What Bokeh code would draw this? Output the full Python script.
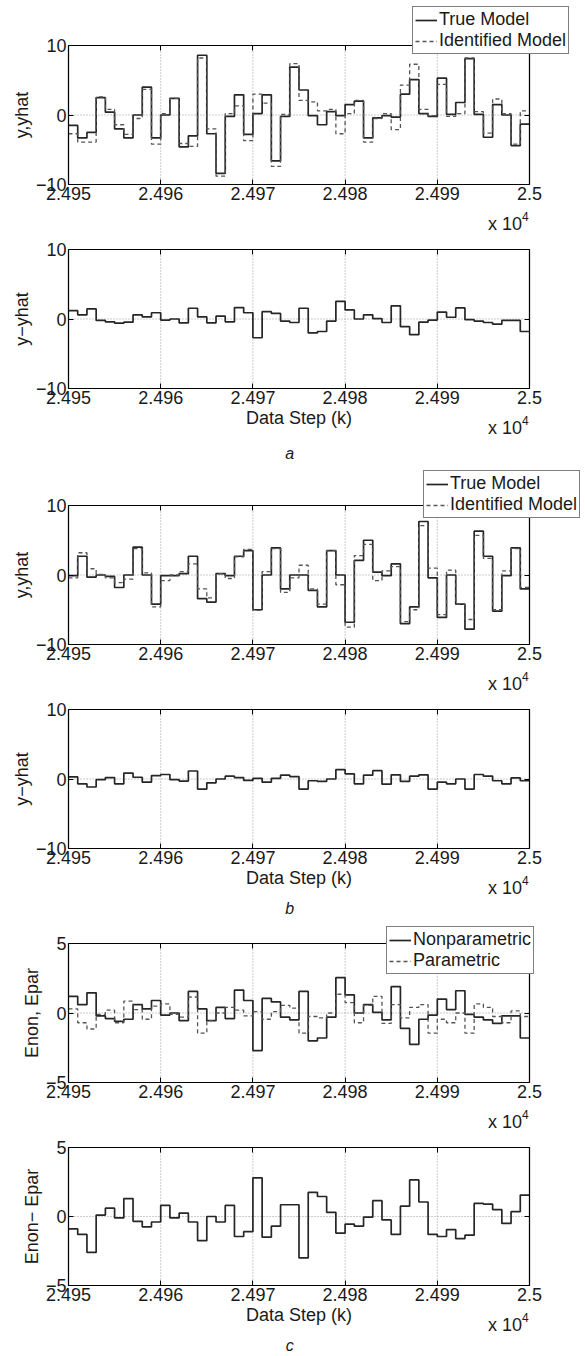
from bokeh.plotting import figure
from bokeh.models import Range1d, FixedTicker, LinearAxis, Legend, LegendItem, Label, BoxAnnotation
from bokeh.layouts import column
from bokeh.embed import file_html
from bokeh.resources import INLINE

# ---------------- data ----------------
k_start = 24950
n_steps = 50
k_edges = list(range(k_start, k_start + n_steps + 1))

x_ticks = [24950, 24960, 24970, 24980, 24990, 25000]
x_tick_labels = ["2.495", "2.496", "2.497", "2.498", "2.499", "2.5"]

# case a : true vs identified model output
y_true_a = [-1.5, -3.3, -2.5, 2.5, 0.4, -2.0, -3.3, 0.0, 4.0, -3.3,
            0.0, 2.4, -4.6, -3.0, 8.6, -2.7, -8.4, -0.2, 2.9, -2.8,
            0.2, 2.9, -6.6, -0.2, 6.9, 3.6, -0.1, -1.4, 0.5, -0.1,
            1.5, 2.0, -3.3, -0.4, -0.1, -0.3, 3.0, 5.1, 0.2, -0.2,
            5.3, 0.1, 1.8, 8.1, 0.1, -3.2, 1.5, 0.0, -4.4, -1.3]
y_ident_a = [-2.7, -3.9, -3.9, 2.6, 0.8, -1.4, -2.8, -0.5, 3.7, -4.2,
             0.2, 2.4, -4.1, -4.5, 8.2, -2.0, -8.8, 0.2, 1.3, -3.7,
             3.0, 1.7, -7.4, 0.1, 7.4, 2.1, 1.9, 0.6, 0.8, -2.7,
             0.2, 2.1, -3.9, -0.5, 0.2, -2.1, 4.3, 7.3, 0.8, -0.1,
             4.4, -0.2, 0.2, 8.2, 0.5, -2.6, 2.3, 0.2, -4.2, 0.6]
# nonparametric error (y - yhat, case a)
e_nonpar = [1.2, 0.6, 1.45, -0.2, -0.4, -0.6, -0.45, 0.6, 0.3, 0.9,
            -0.15, 0.0, -0.55, 1.55, 0.3, -0.55, 0.4, -0.4, 1.65, 0.9,
            -2.7, 1.05, 0.8, -0.3, -0.5, 1.55, -2.0, -1.8, -0.3, 2.55,
            1.3, 0.0, 0.6, 0.05, -0.5, 1.9, -1.1, -2.25, -0.45, -0.15,
            1.0, 0.25, 1.6, -0.1, -0.3, -0.5, -0.75, -0.2, -0.2, -1.8]

# case b : true vs identified model output
y_true_b = [-0.1, 2.7, -0.3, 0.0, -0.2, -1.8, 0.0, 4.0, 0.0, -4.2,
            -0.1, -0.1, 0.2, 2.7, -3.4, -3.9, 0.2, -0.1, 2.7, 3.5,
            -5.0, 0.0, 3.9, -2.0, 0.0, 0.0, -2.2, -4.6, 3.5, 0.0,
            -6.8, 2.1, 5.0, 0.4, -0.1, 1.6, -7.0, -4.6, 7.7, -0.4,
            -6.1, 0.0, -4.2, -7.8, 6.3, 2.7, -5.2, -0.1, 3.9, -2.0]
y_ident_b = [-0.4, 3.2, 0.9, 0.1, -0.4, -1.1, -0.6, 3.8, 0.3, -4.6,
             -0.8, 0.0, 0.5, 1.6, -2.0, -3.3, 0.2, -0.5, 2.6, 3.7,
             -5.1, 0.5, 3.8, -2.5, -0.4, 1.4, -2.0, -4.2, 3.5, -1.4,
             -7.5, 2.8, 4.4, -0.8, 0.6, 1.2, -6.7, -5.0, 7.1, 1.0,
             -5.7, 0.7, -4.2, -6.4, 5.7, 2.4, -5.0, 0.6, 3.8, -1.8]
# parametric error (y - yhat, case b)
e_par = [0.3, -0.7, -1.15, -0.1, 0.2, -0.7, 0.85, 0.25, -0.45, 0.5,
         0.65, -0.1, -0.3, 1.15, -1.45, -0.55, 0.0, 0.4, 0.2, -0.2,
         0.1, -0.45, 0.1, 0.55, 0.35, -1.45, -0.25, -0.35, 0.0, 1.35,
         0.75, -0.7, 0.55, 1.2, -0.75, 0.6, -0.35, 0.4, 0.6, -1.45,
         -0.45, -0.7, 0.0, -1.45, 0.65, 0.4, -0.25, -0.7, 0.15, -0.25]
# difference of the two error sequences
e_diff = [-0.9, -1.3, -2.6, 0.1, 0.6, -0.1, 1.3, -0.35, -0.75, -0.4,
          0.8, -0.1, 0.25, -0.4, -1.75, 0.0, -0.4, 0.8, -1.45, -1.1,
          2.8, -1.5, -0.7, 0.85, 0.85, -3.0, 1.75, 1.45, 0.3, -1.2,
          -0.55, -0.7, -0.05, 1.15, -0.25, -1.3, 0.75, 2.65, 1.05, -1.3,
          -1.45, -0.95, -1.6, -1.35, 0.95, 0.9, 0.5, -0.5, 0.35, 1.55]

# ---------------- style / geometry ----------------
FONT = "Liberation Sans"
TXT = "#1a1a1a"
SOLID = "#262626"
DASH = "#555555"
W = 585
BOX_L, BOX_R = 68, 529          # box edges in pixels
PX_PER_K = (BOX_R - BOX_L) / n_steps
X0 = k_start - BOX_L / PX_PER_K
X1 = k_start + n_steps + (W - BOX_R) / PX_PER_K


def stairs(vals):
    return list(vals) + [vals[-1]]


def make_panel(h, top, bottom, lim, ylabel, xlabel=None, caption=None, cap_off=-63):
    """top/bottom: pixel rows of the axes box inside this figure."""
    u = 2.0 * lim / (bottom - top)
    y0 = -lim - (h - bottom) * u
    y1 = lim + top * u
    p = figure(width=W, height=h, output_backend="svg", toolbar_location=None,
               x_range=Range1d(X0, X1), y_range=Range1d(y0, y1),
               x_axis_type=None, y_axis_type=None,
               min_border_left=0, min_border_right=0, min_border_top=0, min_border_bottom=0)
    p.outline_line_color = None
    p.background_fill_color = "white"
    p.border_fill_color = "white"

    xb_lo, xb_hi = x_ticks[0], x_ticks[-1]
    y_ticks = [-lim, 0, lim]
    y_labels = {-lim: "\u2212%d" % lim, 0: "0", lim: "%d" % lim}
    xl = dict(zip(x_ticks, x_tick_labels))

    common = dict(major_tick_in=5, major_tick_out=0, minor_tick_in=0, minor_tick_out=0,
                  axis_line_color="black", axis_line_width=1.2,
                  major_tick_line_color="black", major_tick_line_width=1,
                  major_label_text_font=FONT, major_label_text_font_size="18px",
                  major_label_text_color=TXT,
                  axis_label_text_font=FONT, axis_label_text_font_size="18px",
                  axis_label_text_font_style="normal", axis_label_text_color=TXT)

    # dotted grid (behind everything)
    gx = x_ticks[1:-1]
    p.segment(x0=gx, y0=[-lim] * len(gx), x1=gx, y1=[lim] * len(gx),
              line_color="#808080", line_width=0.8, line_dash="1 2", level="underlay")
    p.segment(x0=[xb_lo], y0=[0], x1=[xb_hi], y1=[0],
              line_color="#808080", line_width=0.8, line_dash="1 2", level="underlay")

    # axes box
    p.add_layout(BoxAnnotation(left=xb_lo, right=xb_hi, bottom=-lim, top=lim,
                               fill_color=None, fill_alpha=0, line_color="black",
                               line_width=1.2, level="underlay"))

    xb = LinearAxis(ticker=FixedTicker(ticks=x_ticks), major_label_overrides=xl,
                    fixed_location=-lim, bounds=(xb_lo, xb_hi),
                    major_label_standoff=2, axis_label=xlabel, axis_label_standoff=1, **common)
    p.add_layout(xb, "below")
    xa = LinearAxis(ticker=FixedTicker(ticks=x_ticks), major_label_overrides={t: "" for t in x_ticks},
                    fixed_location=lim, bounds=(xb_lo, xb_hi), major_label_standoff=0, **common)
    p.add_layout(xa, "above")
    yl = LinearAxis(ticker=FixedTicker(ticks=y_ticks), major_label_overrides=y_labels,
                    fixed_location=xb_lo, bounds=(-lim, lim),
                    major_label_standoff=2, axis_label=ylabel, axis_label_standoff=1, **common)
    p.add_layout(yl, "left")
    yr = LinearAxis(ticker=FixedTicker(ticks=y_ticks), major_label_overrides={t: "" for t in y_ticks},
                    fixed_location=xb_hi, bounds=(-lim, lim), major_label_standoff=0, **common)
    p.add_layout(yr, "right")

    p.add_layout(Label(x=xb_hi - 4.5, y=-lim, y_offset=-39, text="x 10",
                       text_font=FONT, text_font_size="18px", text_color=TXT,
                       text_align="left", text_baseline="middle"))
    p.add_layout(Label(x=xb_hi - 4.5, x_offset=34, y=-lim, y_offset=-32, text="4",
                       text_font=FONT, text_font_size="12px", text_color=TXT,
                       text_align="left", text_baseline="middle"))
    if caption:
        p.add_layout(Label(x=24974, y=-lim, y_offset=cap_off, text=caption,
                           text_font=FONT, text_font_size="16px", text_font_style="italic",
                           text_color=TXT, text_align="center", text_baseline="middle"))
    return p


def add_legend(p, renderers, labels, loc):
    items = [LegendItem(label=lab, renderers=[r]) for lab, r in zip(labels, renderers)]
    leg = Legend(items=items, location=loc, border_line_color="black", border_line_width=1.2,
                 background_fill_color="white", background_fill_alpha=1.0,
                 padding=2, spacing=0, margin=0, glyph_width=22, glyph_height=20,
                 label_height=20, label_standoff=2, label_text_font=FONT,
                 label_text_font_size="18px", label_text_color=TXT,
                 label_text_baseline="middle")
    p.add_layout(leg)


def pair(p, a, b):
    r1 = p.step(k_edges, stairs(a), mode="after", line_color=SOLID, line_width=1.7)
    r2 = p.step(k_edges, stairs(b), mode="after", line_color=DASH, line_width=1.3,
                line_dash="4 3")
    return r1, r2


# panel 1 (figure rows 0..234)
p1 = make_panel(234, 45, 184, 10, "y,yhat")
r1, r2 = pair(p1, y_true_a, y_ident_a)
add_legend(p1, [r1, r2], ["True Model", "Identified Model"], (412, 180))

# panel 2 (rows 234..467)
p2 = make_panel(233, 15, 154, 10, "y\u2212yhat", xlabel="Data Step (k)", caption="a", cap_off=-65)
p2.step(k_edges, stairs(e_nonpar), mode="after", line_color=SOLID, line_width=1.7)

# panel 3 (rows 467..694)
p3 = make_panel(227, 38, 177, 10, "y,yhat")
r1, r2 = pair(p3, y_true_b, y_ident_b)
add_legend(p3, [r1, r2], ["True Model", "Identified Model"], (423, 176))

# panel 4 (rows 694..922)
p4 = make_panel(228, 15, 154, 10, "y\u2212yhat", xlabel="Data Step (k)", caption="b", cap_off=-60)
p4.step(k_edges, stairs(e_par), mode="after", line_color=SOLID, line_width=1.7)

# panel 5 (rows 922..1131)
p5 = make_panel(209, 21, 160, 5, "Enon, Epar")
r1, r2 = pair(p5, e_nonpar, e_par)
add_legend(p5, [r1, r2], ["Nonparametric", "Parametric"], (386, 157))

# panel 6 (rows 1131..1356)
p6 = make_panel(225, 16, 154, 5, "Enon\u2212 Epar", xlabel="Data Step (k)", caption="c", cap_off=-60)
p6.step(k_edges, stairs(e_diff), mode="after", line_color=SOLID, line_width=1.7)

layout = column(p1, p2, p3, p4, p5, p6, spacing=0)
open("out.html", "w").write(file_html(layout, INLINE))
